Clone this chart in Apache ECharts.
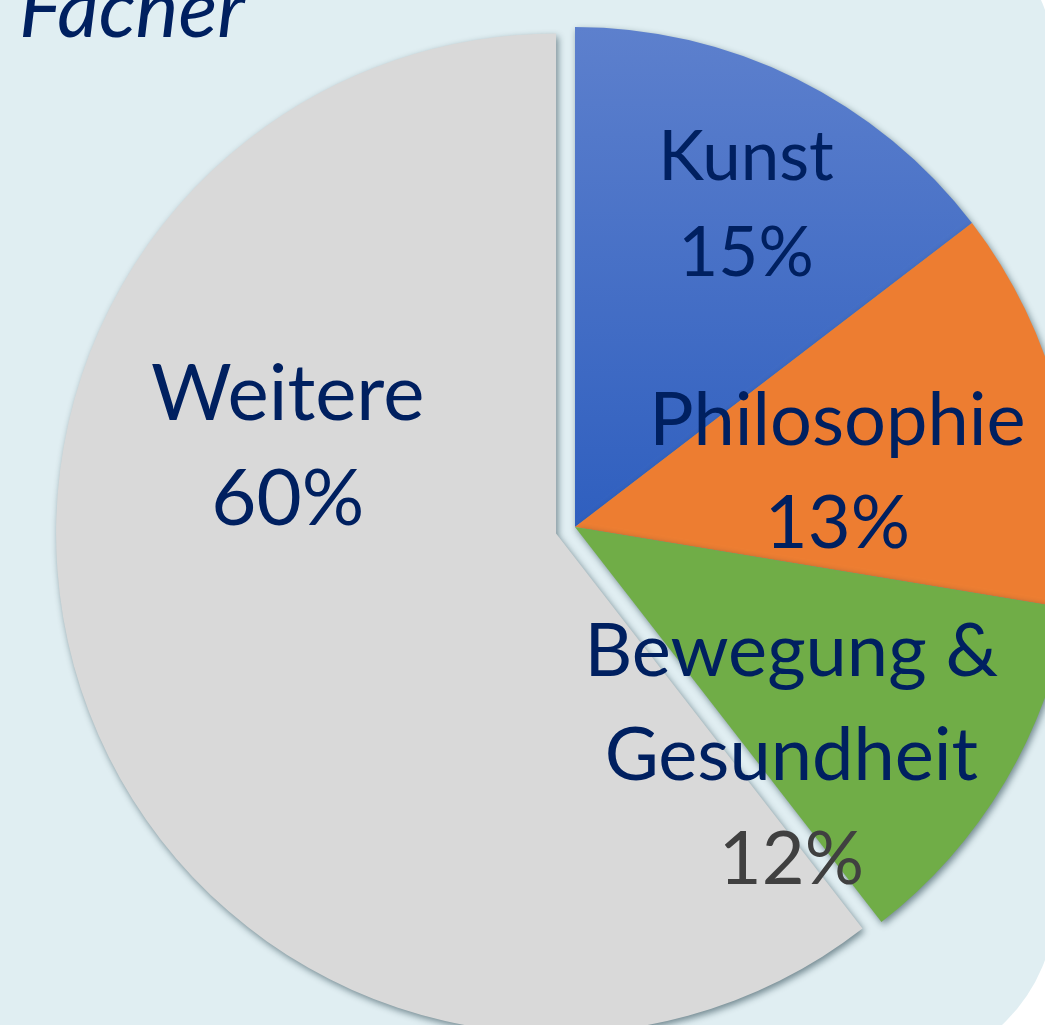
<!DOCTYPE html>
<html>
<head>
<meta charset="utf-8">
<script src="https://cdn.jsdelivr.net/npm/echarts@6/dist/echarts.min.js"></script>
<style>
  html, body { margin: 0; padding: 0; background: #ffffff; }
  #chart { width: 1045px; height: 1025px; }
</style>
</head>
<body>
<div id="chart"></div>
<script>
  var categories = ['Kunst', 'Philosophie', 'Bewegung &\nGesundheit', 'Weitere'];
  var shares = [14.6, 13.0, 11.9, 60.5];

  // Farben der Segmente
  var sliceColors = [
    new echarts.graphic.LinearGradient(0, 0, 0, 1, [
      { offset: 0, color: '#5d80cd' },
      { offset: 1, color: '#2f5fbf' }
    ]),
    '#ed7d31',
    '#70ad47',
    '#d9d9d9'
  ];
  // Beschriftung: Verschiebung, Schriftgröße, Zeilenhöhe je Segment
  var labelShift = [[59, -94], [17, 7], [-1, 100], [-29, -168]];
  var labelSize = [69, 74, 74, 78];
  var labelLine = [96, 103, 104, 105];

  var navy = '#002060';

  var chart = echarts.init(document.getElementById('chart'));

  var seriesData = [];
  for (var i = 0; i < categories.length; i++) {
    var rich = {
      n: { fontSize: labelSize[i], lineHeight: labelLine[i] },
      p: { fontSize: labelSize[i], lineHeight: labelLine[i] }
    };
    if (i === 2) {
      // 12% steht grau da
      rich.p.color = '#404040';
    }
    seriesData.push({
      name: categories[i],
      value: shares[i],
      selected: i === 3,
      itemStyle: { color: sliceColors[i] },
      label: { rich: rich }
    });
  }

  var option = {
    animation: false,
    backgroundColor: '#ffffff',
    graphic: [{
      type: 'rect',
      z: -10,
      silent: true,
      shape: { x: -100, y: -100, width: 1155, height: 1170, r: 167 },
      style: { fill: '#e0eef2' }
    }],
    title: {
      text: 'Fächer',
      left: 14,
      top: -35,
      textStyle: {
        fontFamily: 'Lato',
        fontStyle: 'italic',
        fontWeight: 'normal',
        fontSize: 81,
        lineHeight: 81,
        color: navy
      }
    },
    series: [{
      type: 'pie',
      center: [575, 527],
      radius: [0, 500],
      startAngle: 90,
      clockwise: true,
      percentPrecision: 0,
      selectedMode: 'single',
      selectedOffset: 20,
      avoidLabelOverlap: false,
      emphasis: { disabled: true },
      itemStyle: {
        shadowBlur: 7,
        shadowOffsetX: 2,
        shadowOffsetY: 3,
        shadowColor: 'rgba(20, 50, 60, 0.55)'
      },
      label: {
        show: true,
        position: 'inside',
        formatter: '{n|{b}}\n{p|{d}%}',
        rich: {
          n: { fontFamily: 'Lato', fontSize: 76, lineHeight: 100, color: navy },
          p: { fontFamily: 'Lato', fontSize: 76, lineHeight: 100, color: navy }
        }
      },
      labelLine: { show: false },
      labelLayout: function (params) {
        var s = labelShift[params.dataIndex];
        return { dx: s[0], dy: s[1] };
      },
      data: seriesData
    }]
  };

  chart.setOption(option);
  window.addEventListener('resize', function () {
    chart.resize();
  });
</script>
</body>
</html>
